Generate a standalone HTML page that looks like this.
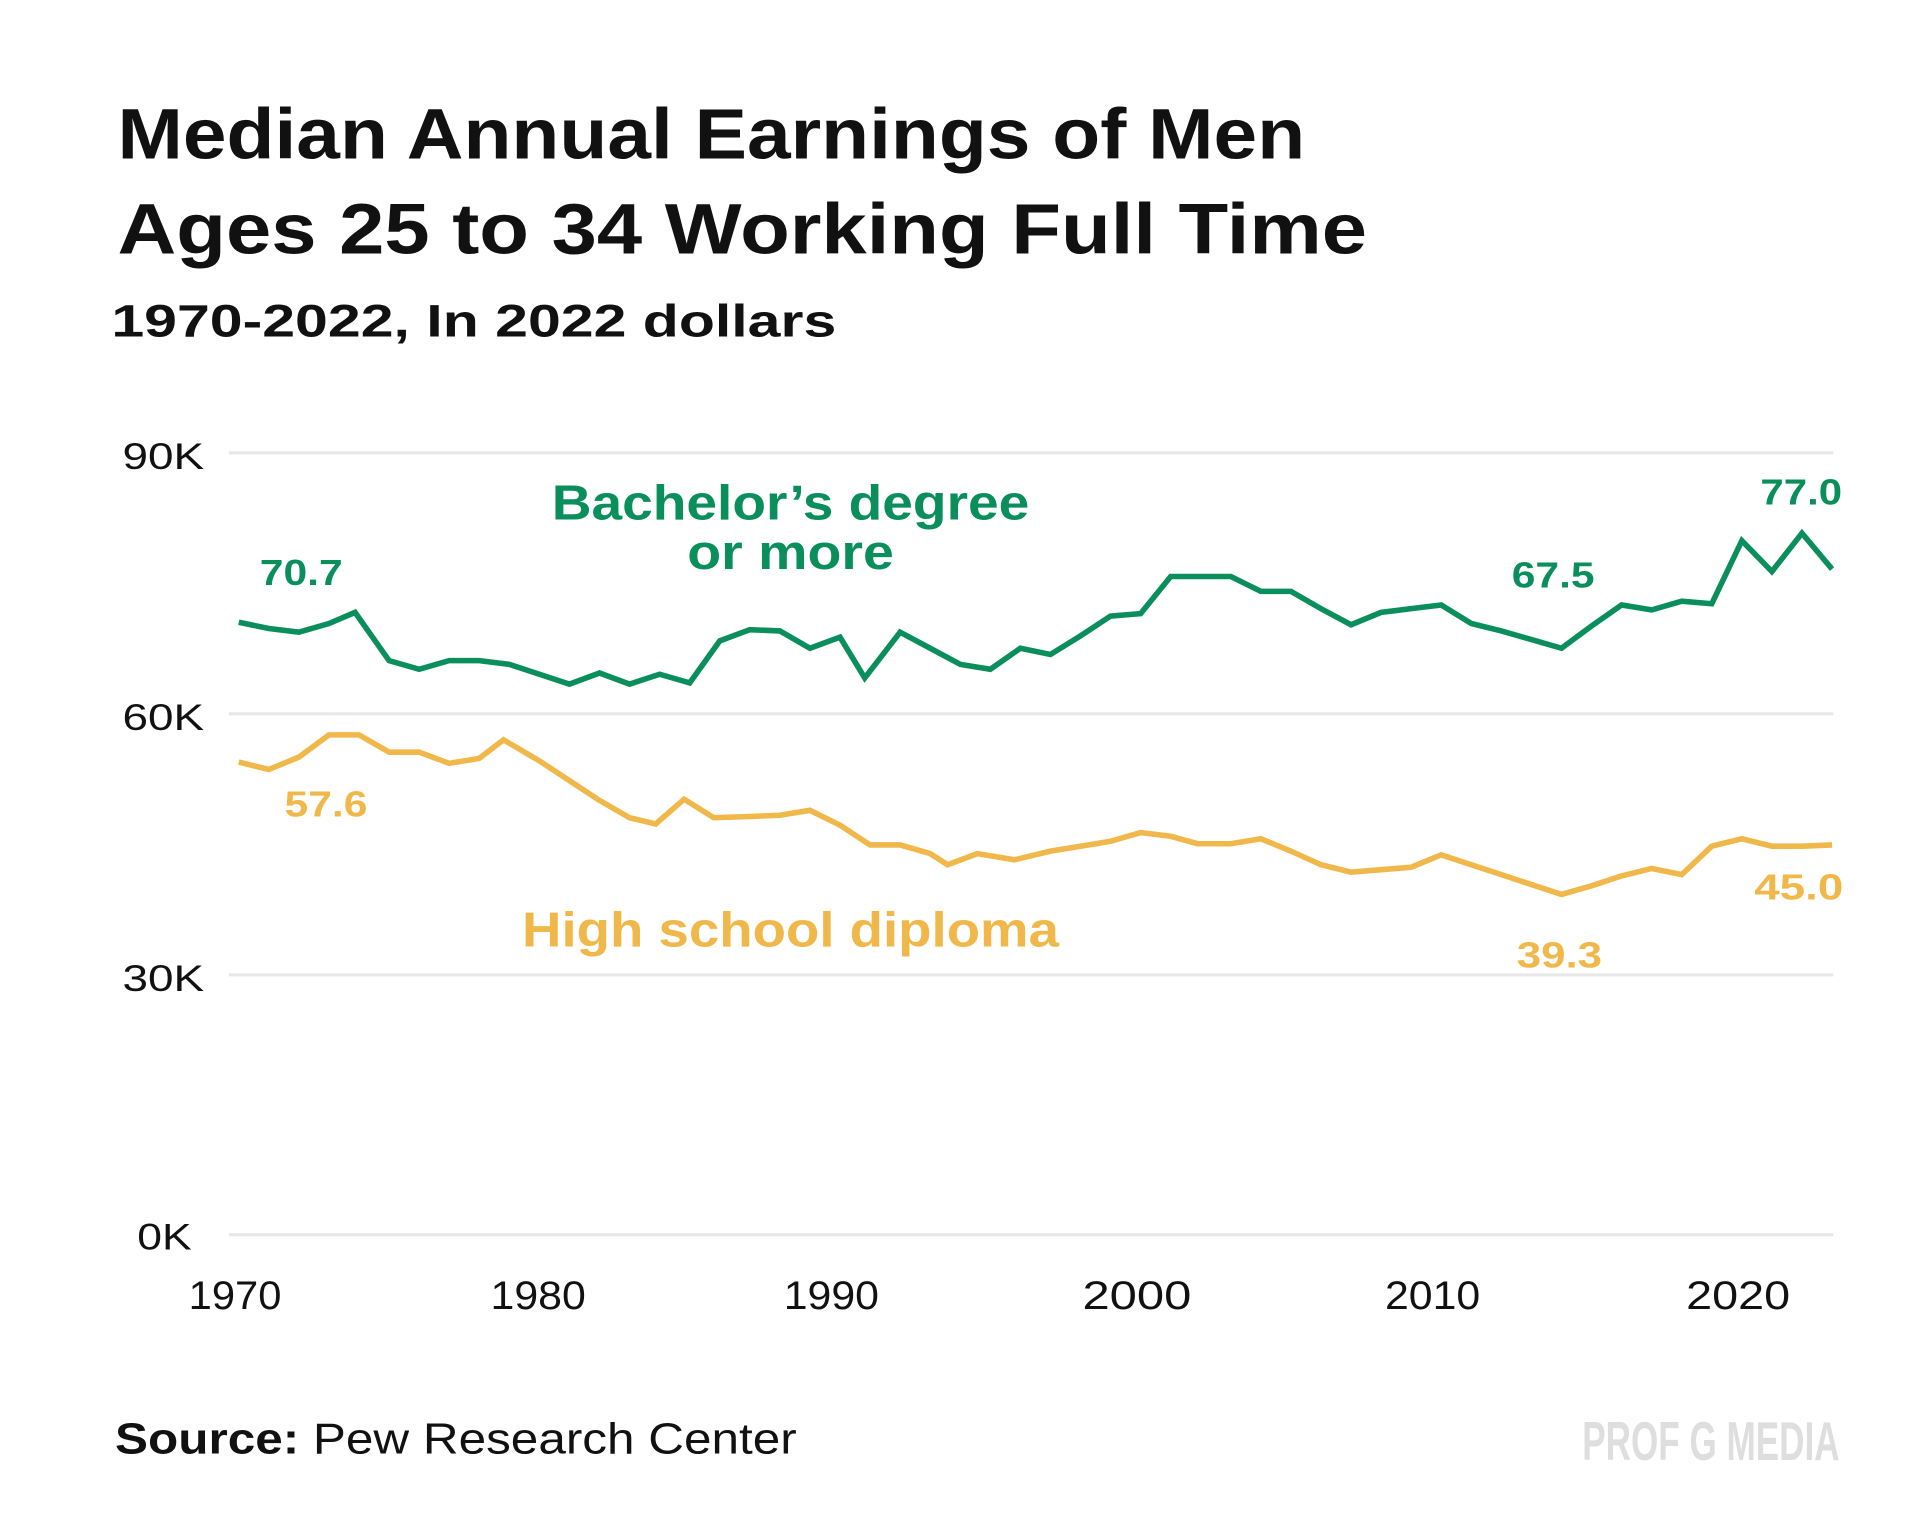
<!DOCTYPE html>
<html><head><meta charset="utf-8"><style>
html,body{margin:0;padding:0;background:#fff;}
svg{display:block;}
text{font-family:"Liberation Sans",sans-serif;}
</style></head><body>
<svg width="1920" height="1538" viewBox="0 0 1552 1243.2" preserveAspectRatio="none" xmlns="http://www.w3.org/2000/svg">
<rect width="1552" height="1243.2" fill="#fff"/>
<text x="95" y="128" font-size="58" font-weight="bold" fill="#111" textLength="960" lengthAdjust="spacingAndGlyphs">Median Annual Earnings of Men</text>
<text x="95" y="205" font-size="58" font-weight="bold" fill="#111" textLength="1010" lengthAdjust="spacingAndGlyphs">Ages 25 to 34 Working Full Time</text>
<text x="90" y="272" font-size="37" font-weight="bold" fill="#111" textLength="586" lengthAdjust="spacingAndGlyphs">1970-2022, In 2022 dollars</text>
<g stroke="#e8e8e8" stroke-width="2.5">
<line x1="185" y1="366" x2="1482" y2="366"/>
<line x1="185" y1="577" x2="1482" y2="577"/>
<line x1="185" y1="788" x2="1482" y2="788"/>
<line x1="185" y1="998" x2="1482" y2="998"/>
</g>
<g font-size="30" fill="#111">
<text x="99" y="379" textLength="66" lengthAdjust="spacingAndGlyphs">90K</text>
<text x="99" y="590" textLength="66" lengthAdjust="spacingAndGlyphs">60K</text>
<text x="99" y="801" textLength="66" lengthAdjust="spacingAndGlyphs">30K</text>
<text x="111" y="1010" textLength="44" lengthAdjust="spacingAndGlyphs">0K</text>
</g>
<g font-size="32" fill="#111" text-anchor="middle">
<text x="190" y="1058" textLength="75" lengthAdjust="spacingAndGlyphs">1970</text>
<text x="435" y="1058" textLength="77" lengthAdjust="spacingAndGlyphs">1980</text>
<text x="672" y="1058" textLength="77" lengthAdjust="spacingAndGlyphs">1990</text>
<text x="919" y="1058" textLength="88" lengthAdjust="spacingAndGlyphs">2000</text>
<text x="1158" y="1058" textLength="77" lengthAdjust="spacingAndGlyphs">2010</text>
<text x="1405" y="1058" textLength="84" lengthAdjust="spacingAndGlyphs">2020</text>
</g>
<polyline fill="none" stroke="#0a8f5c" stroke-width="4.5" stroke-linejoin="miter" points="193,503 217.3,508 241.6,511 265.9,504 287,495 314.5,534 338.8,541 363.1,534 387.4,534 411.7,537 436,545 460.3,553 484.6,544 508.9,553 533.2,545 557.5,552 581.8,518 606.1,509 630.4,510 654.7,524 679,515 699,548 727.6,511 751.9,524 776.2,537 800.5,541 824.8,524 849.1,529 873.4,514 897.7,498 922,496 946.3,466 970.6,466 994.9,466 1019.2,478 1043.5,478 1067.8,492 1092.1,505 1116.4,495 1140.7,492 1165,489 1189.3,504 1213.6,510 1237.9,517 1262.2,524 1286.5,506 1310.8,489 1335.1,493 1359.4,486 1383.7,488 1408,437 1432.3,462 1456.6,431 1480.9,460"/>
<polyline fill="none" stroke="#f0b84a" stroke-width="4.5" stroke-linejoin="miter" points="193,616 217.3,622 241.6,612 265.9,594 290.2,594 314.5,608 338.8,608 363.1,617 387.4,613 407,598 436,615 460.3,631 484.6,647 508.9,661 530,666 553,646 577,661 606.1,660 630.4,659 654.7,655 679,667 703.3,683 727.6,683 751.9,690 766,699 790,690 820,695 849.1,688 873.4,684 897.7,680 922,673 946.3,676 968,682 994.9,682 1019.2,678 1043.5,688 1067.8,699 1092.1,705 1116.4,703 1140.7,701 1165,691 1189.3,699 1213.6,707 1237.9,715 1262.2,723 1286.5,716 1310.8,708 1335.1,702 1359.4,707 1383.7,684 1408,678 1432.3,684 1456.6,684 1480.9,683"/>
<g font-weight="bold" fill="#0a8f5c">
<text x="639" y="420" font-size="40" text-anchor="middle" textLength="386" lengthAdjust="spacingAndGlyphs">Bachelor’s degree</text>
<text x="639" y="460" font-size="40" text-anchor="middle" textLength="167" lengthAdjust="spacingAndGlyphs">or more</text>
<text x="210" y="473" font-size="29" textLength="67" lengthAdjust="spacingAndGlyphs">70.7</text>
<text x="1423" y="408" font-size="29" textLength="66" lengthAdjust="spacingAndGlyphs">77.0</text>
<text x="1222" y="475" font-size="29" textLength="67" lengthAdjust="spacingAndGlyphs">67.5</text>
</g>
<g font-weight="bold" fill="#f0b84a">
<text x="422" y="765" font-size="40" textLength="434" lengthAdjust="spacingAndGlyphs">High school diploma</text>
<text x="230" y="660" font-size="29" textLength="67" lengthAdjust="spacingAndGlyphs">57.6</text>
<text x="1418" y="727" font-size="29" textLength="72" lengthAdjust="spacingAndGlyphs">45.0</text>
<text x="1226" y="782" font-size="29" textLength="69" lengthAdjust="spacingAndGlyphs">39.3</text>
</g>
<text x="93" y="1175" font-size="35" fill="#111" textLength="551" lengthAdjust="spacingAndGlyphs"><tspan font-weight="bold">Source:</tspan> Pew Research Center</text>
<text x="1279" y="1180" font-size="44" font-weight="bold" fill="#dedede" textLength="208" lengthAdjust="spacingAndGlyphs">PROF G MEDIA</text>
</svg>
</body></html>
